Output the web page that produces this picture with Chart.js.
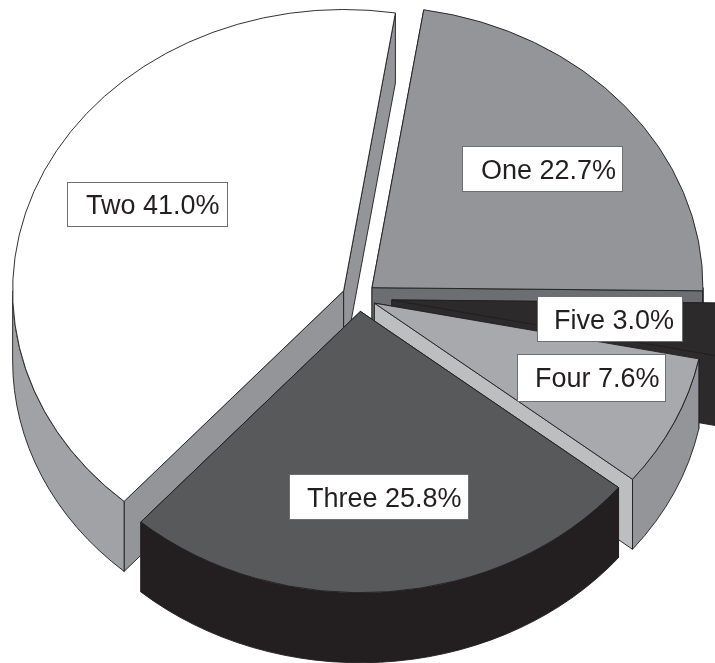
<!DOCTYPE html>
<html>
<head>
<meta charset="utf-8">
<title>Pie</title>
<script src="https://cdn.jsdelivr.net/npm/chart.js@4/dist/chart.umd.js"></script>
<style>
  html, body { margin: 0; padding: 0; background: #fff; }
  #wrap { width: 715px; height: 663px; overflow: hidden; }
</style>
</head>
<body>
<div id="wrap"><canvas id="pie" width="715" height="663"></canvas></div>
<script>
const categories = ["One", "Five", "Four", "Three", "Two"];
const shares = [22.7, 3.0, 7.6, 25.8, 41.0];

// styling, same order as categories
const topColors = ["#939598", "#2c2a2b", "#a7a9ac", "#58595b", "#ffffff"];
const edgeColors = ["#6d6e71", "#2c2a2b", "#bcbec0", "#231f20", "#939598"];
const rimColors = ["#6d6e71", "#2c2a2b", "#939598", "#231f20", "#a0a2a5"];
const gaps = [17, 33, 17, 17, 17];          // how far each slice is pulled out
const paintOrder = [4, 0, 1, 2, 3];         // back to front

// label boxes, same order as categories: left, top, right, bottom, text x, baseline
const boxes = [
  [462, 146, 623, 192, 481, 179],
  [537, 296, 683, 342, 554, 329],
  [517, 354, 666, 402, 535, 387],
  [289, 474, 469, 520, 307, 507],
  [67, 182, 228, 227, 86, 214],
];

const CX = 359, CY = 297, TILT = 0.85, DEPTH = 70;

function wall(ctx, color, build) {
  ctx.beginPath();
  build();
  ctx.closePath();
  ctx.fillStyle = color;
  ctx.fill();
  ctx.strokeStyle = "#231f20";
  ctx.lineWidth = 1;
  ctx.stroke();
}

const pie3d = {
  id: "pie3d",
  // tilts the flat pie and extrudes every slice, painter's order
  beforeDatasetsDraw(chart) {
    const ctx = chart.ctx;
    const arcs = chart.getDatasetMeta(0).data;
    const d = DEPTH / TILT;
    paintOrder.forEach((i) => {
      const arc = arcs[i];
      const { x, y, startAngle: a0, endAngle: a1, outerRadius: r } = arc;
      const mid = (a0 + a1) / 2;
      ctx.save();
      ctx.translate(CX, CY);
      ctx.scale(1, TILT);
      ctx.translate(-x + Math.cos(mid) * gaps[i], -y + Math.sin(mid) * gaps[i]);
      [a0, a1].forEach((a) => wall(ctx, edgeColors[i], () => {
        ctx.moveTo(x, y);
        ctx.lineTo(x + r * Math.cos(a), y + r * Math.sin(a));
        ctx.lineTo(x + r * Math.cos(a), y + r * Math.sin(a) + d);
        ctx.lineTo(x, y + d);
      }));
      // only the part of the rim that faces the viewer
      const from = Math.max(a0, 0), to = Math.min(a1, Math.PI);
      if (to > from) {
        wall(ctx, rimColors[i], () => {
          ctx.arc(x, y, r, from, to);
          ctx.arc(x, y + d, r, to, from, true);
        });
      }
      arc.draw(ctx);
      ctx.restore();
    });
    return false;
  },
  afterDraw(chart) {
    const ctx = chart.ctx;
    ctx.save();
    ctx.font = '27px "Liberation Sans", Arial, sans-serif';
    ctx.textAlign = "left";
    ctx.textBaseline = "alphabetic";
    categories.forEach((name, i) => {
      const [l, t, r, b, tx, ty] = boxes[i];
      ctx.fillStyle = "#fff";
      ctx.fillRect(l, t, r - l, b - t);
      ctx.strokeStyle = "#6d6e71";
      ctx.lineWidth = 1;
      ctx.strokeRect(l + 0.5, t + 0.5, r - l - 1, b - t - 1);
      ctx.fillStyle = "#231f20";
      ctx.fillText(`${name} ${shares[i].toFixed(1)}%`, tx, ty);
    });
    ctx.restore();
  },
};

new Chart(document.getElementById("pie"), {
  type: "pie",
  data: {
    labels: categories,
    datasets: [{
      data: shares,
      backgroundColor: topColors,
      borderColor: "#231f20",
      borderWidth: 1,
    }],
  },
  options: {
    responsive: false,
    animation: false,
    events: [],
    radius: 331,
    rotation: 9,
    plugins: { legend: { display: false }, tooltip: { enabled: false } },
  },
  plugins: [pie3d],
});
</script>
</body>
</html>
